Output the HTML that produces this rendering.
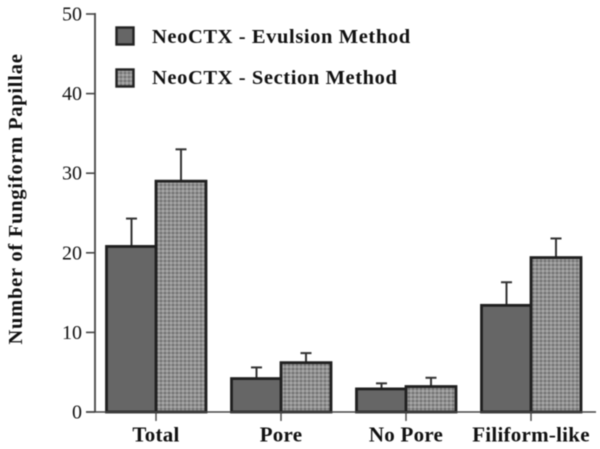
<!DOCTYPE html>
<html>
<head>
<meta charset="utf-8">
<style>
html,body{margin:0;padding:0;background:#fff;width:600px;height:449px;overflow:hidden}
svg{display:block;filter:blur(.55px)}
text{font-family:"Liberation Serif",serif;fill:#111}
.b{font-weight:bold}
</style>
</head>
<body>
<svg id="chart" width="600" height="449" viewBox="0 0 600 449" xmlns="http://www.w3.org/2000/svg">
<defs>
<pattern id="dots" width="4" height="4" patternUnits="userSpaceOnUse">
<rect width="4" height="4" fill="#929292"/>
<rect x="0" y="0" width="2" height="2" fill="#707070"/>
<rect x="2" y="2" width="2" height="2" fill="#aaaaaa"/>
</pattern>
</defs>
<text class="b" transform="translate(22,199) rotate(-90)" text-anchor="middle" font-size="20.5" letter-spacing=".75">Number of Fungiform Papillae</text>
<rect x="116.5" y="27.5" width="17" height="17" fill="#666" stroke="#222" stroke-width="2.4"/>
<text class="b" x="152" y="43" font-size="20.5" letter-spacing=".6">NeoCTX - Evulsion Method</text>
<rect x="116.5" y="69.5" width="17" height="17" fill="url(#dots)" stroke="#222" stroke-width="2.4"/>
<text class="b" x="152" y="84" font-size="20.5" letter-spacing=".6">NeoCTX - Section Method</text>
<g id="plot"></g>
</svg>
<script>
var categories = ["Total", "Pore", "No Pore", "Filiform-like"];
var evulsionValues = [20.8, 4.2, 2.9, 13.4];
var sectionValues = [29.0, 6.2, 3.2, 19.4];
var evulsionErrors = [3.5, 1.4, 0.7, 2.9];
var sectionErrors = [4.0, 1.2, 1.1, 2.4];
var yTicks = [0, 10, 20, 30, 40, 50];

var NS = "http://www.w3.org/2000/svg";
var plot = document.getElementById("plot");
function yScale(v) { return 412 - v * 7.96; }
function xCenter(i) { return 156 + i * 125; }
function make(tag, attrs, parent) {
  var el = document.createElementNS(NS, tag);
  for (var k in attrs) el.setAttribute(k, attrs[k]);
  parent.appendChild(el);
  return el;
}
function drawBar(i, value, err, side, fill, label) {
  var cx = xCenter(i);
  var x = side < 0 ? cx - 49.5 : cx;
  var mid = x + 25;
  var g = make("g", {}, plot);
  
  
  var stem = make("line", {x1: mid, x2: mid, y1: yScale(value), y2: yScale(value + err), stroke: "#333", "stroke-width": 2}, g);
  
  
  var cap = make("line", {x1: mid - 5.5, x2: mid + 5.5, y1: yScale(value + err), y2: yScale(value + err), stroke: "#333", "stroke-width": 2}, g);
  
  
  var bar = make("rect", {x: x, y: yScale(value), width: 50, height: yScale(0) - yScale(value), fill: fill, stroke: "#1f1f1f", "stroke-width": 2.8}, g);
  
  
}
categories.forEach(function (c, i) {
  drawBar(i, evulsionValues[i], evulsionErrors[i], -1, "#666", "evulsion-" + i);
  drawBar(i, sectionValues[i], sectionErrors[i], 1, "url(#dots)", "section-" + i);
  var tick = make("line", {x1: xCenter(i), x2: xCenter(i), y1: yScale(0), y2: yScale(0) + 9, stroke: "#444", "stroke-width": 1.4}, plot);
  
  
  var t = make("text", {x: xCenter(i), y: 441.5, "text-anchor": "middle", "font-size": 21, "letter-spacing": 0.25, "class": "b"}, plot);
  
  
  t.textContent = c;
});
yTicks.forEach(function (v) {
  var tick = make("line", {x1: 86, x2: 95, y1: yScale(v), y2: yScale(v), stroke: "#444", "stroke-width": 1.6}, plot);
  
  
  var t = make("text", {x: 82, y: yScale(v) + 6.5, "text-anchor": "end", "font-size": 20}, plot);
  
  
  t.textContent = v;
});
var yAxis = make("line", {x1: 95, x2: 95, y1: yScale(50) - 1, y2: yScale(0), stroke: "#444", "stroke-width": 1.8}, plot);


var xAxis = make("line", {x1: 86, x2: 596, y1: yScale(0), y2: yScale(0), stroke: "#444", "stroke-width": 1.6}, plot);


</script>
</body>
</html>
